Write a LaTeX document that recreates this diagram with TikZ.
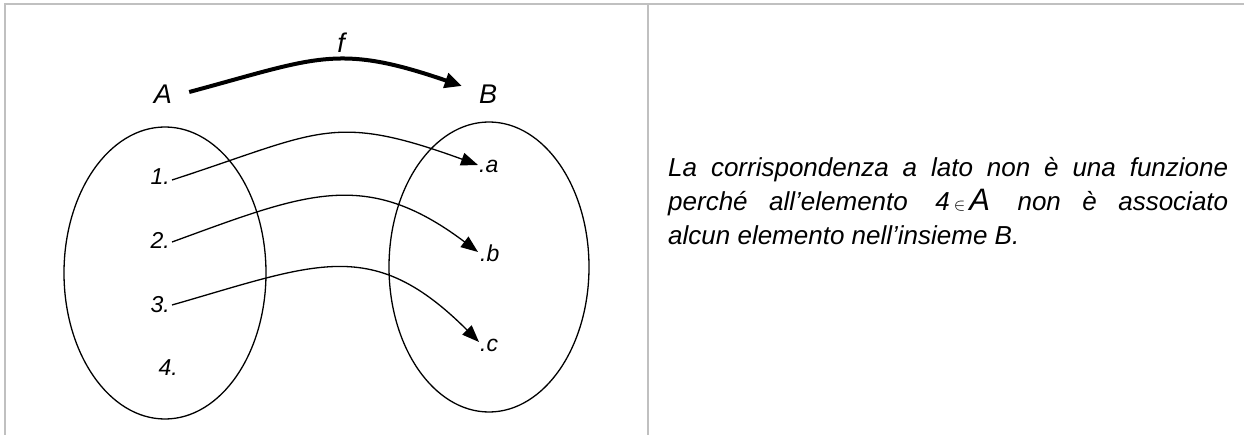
\documentclass[tikz,border=0pt]{standalone}
\usepackage{fontspec}
\setmainfont{Liberation Sans}
\usepackage{tikz}
\usetikzlibrary{shapes.geometric, arrows.meta, positioning, calc}
\definecolor{ruleGray}{RGB}{192,192,192}

\begin{document}
\begin{tikzpicture}[
  x=1pt, y=1pt,
  setshape/.style={ellipse, draw=black, line width=1.3pt, inner sep=0pt},
  elem/.style={inner sep=0pt, font=\fontsize{23}{26}\selectfont\itshape},
  setname/.style={inner sep=0pt, font=\fontsize{27}{30}\selectfont\itshape},
  noteline/.style={inner sep=0pt, anchor=base west, font=\fontsize{26}{34}\selectfont\itshape},
  maplink/.style={draw=black, line width=1.3pt, -{Triangle[length=17pt, width=13pt]}},
  bigmap/.style={draw=black, line width=4pt, -{Triangle[length=17pt, width=15pt]}},
  tablerule/.style={draw=ruleGray, line width=2pt}
]
  \useasboundingbox (0,0) rectangle (1244,-435);

  % table lines
  \draw[tablerule] (4,-4.5) -- (1244,-4.5);
  \draw[tablerule] (5,-4) -- (5,-435);
  \draw[tablerule] (648,-4) -- (648,-435);

  % the two sets
  \node[setshape, minimum width=202pt, minimum height=292pt] (setA) at (165,-273) {};
  \node[setshape, minimum width=200pt, minimum height=290pt] (setB) at (489,-267) {};
  \node[setname, anchor=base] (A) at (163,-104) {A};
  \node[setname, anchor=base] (B) at (488,-104) {B};
  \node[setname, anchor=base] (f) at (341,-53) {f};

  % elements
  \node[elem, anchor=base east] (e1) at (170,-185) {1.};
  \node[elem, anchor=base east] (e2) at (170,-249) {2.};
  \node[elem, anchor=base east] (e3) at (170,-313) {3.};
  \node[elem, anchor=base east] (e4) at (178,-375) {4.};
  \node[elem, anchor=base west] (ta) at (479,-173) {.a};
  \node[elem, anchor=base west] (tb) at (480,-262) {.b};
  \node[elem, anchor=base west] (tc) at (480,-352) {.c};

  \path[bigmap] ([shift={(17,12)}]A.base east) to[out=15, in=161, looseness=1.24] ([shift={(-17,18)}]B.base west);
  \path[maplink] ([shift={(2,5)}]e1.base east) to[out=18, in=160, looseness=1.3] ([shift={(-1,8)}]ta.base west);
  \path[maplink] ([shift={(2,7)}]e2.base east) to[out=20, in=143, looseness=1.18] ([shift={(-2,10)}]tb.base west);
  \path[maplink] ([shift={(2,8)}]e3.base east) to[out=16, in=135, looseness=1.25] ([shift={(-1,10)}]tc.base west);

  % comment text, justified line by line
  \node[noteline] (note1) at (668,-177)
    {\makebox[560pt][s]{La corrispondenza a lato non è una funzione}};
  \node[noteline] (note2) at (668,-211)
    {\makebox[560pt][s]{perché all’elemento\hspace{6pt} 4\hspace{4pt}{\fontsize{18}{20}\selectfont$\in$}\hspace{4pt}{\fontsize{31}{33}\selectfont A}\hspace{6pt} non è associato}};
  \node[noteline] (note3) at (668,-245) {alcun elemento nell’insieme B.};
\end{tikzpicture}
\end{document}
